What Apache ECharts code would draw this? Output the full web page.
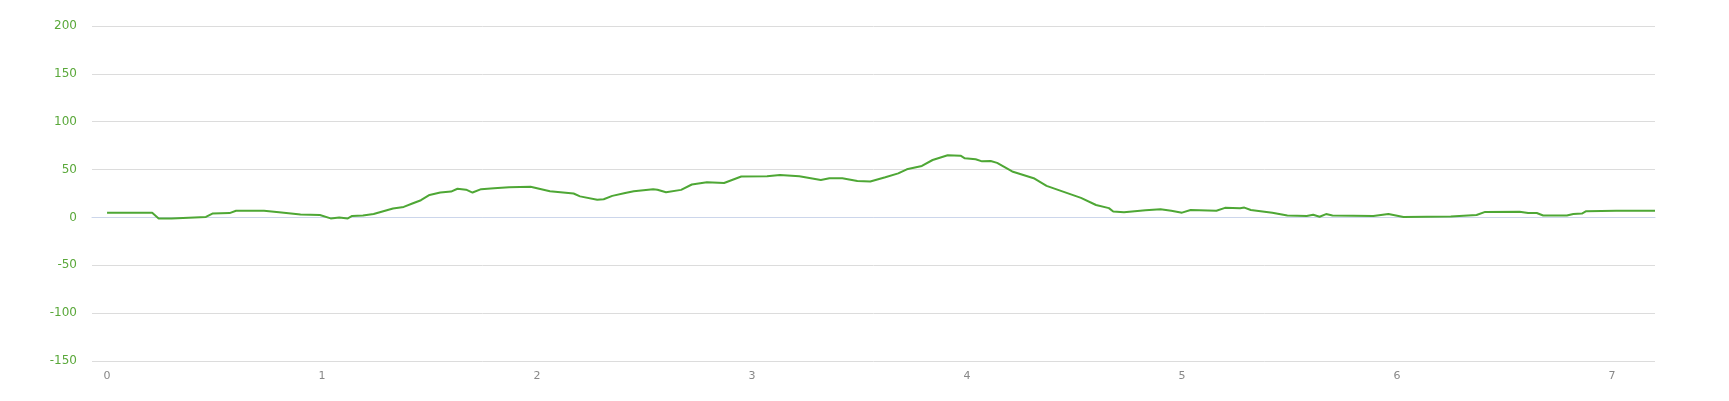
<!DOCTYPE html>
<html>
<head>
<meta charset="utf-8">
<script src="https://cdn.jsdelivr.net/npm/echarts@6/dist/echarts.min.js"></script>
<style>
	html, body { margin: 0; padding: 0; background: #fff; }
	#profileChart { width: 1729px; height: 401px; }
</style>
</head>
<body>
<div id="profileChart"></div>
<script>
	// distance (x) and elevation (y)
	var distances = [0, 0.1, 0.21, 0.24, 0.3, 0.46, 0.49, 0.57, 0.6, 0.73, 0.8, 0.9, 0.99, 1.04, 1.08, 1.12, 1.14, 1.19,
		1.24, 1.33, 1.38, 1.42, 1.46, 1.5, 1.55, 1.6, 1.63, 1.67, 1.7, 1.74, 1.8, 1.87, 1.97, 2.01, 2.06, 2.17, 2.2,
		2.28, 2.31, 2.35, 2.41, 2.45, 2.54, 2.56, 2.6, 2.67, 2.72, 2.79, 2.87, 2.95, 3.07, 3.13, 3.22, 3.32, 3.36,
		3.42, 3.49, 3.55, 3.62, 3.68, 3.72, 3.79, 3.84, 3.91, 3.97, 3.99, 4.04, 4.07, 4.11, 4.14, 4.21, 4.31, 4.37,
		4.45, 4.53, 4.6, 4.66, 4.68, 4.73, 4.83, 4.9, 4.95, 5.0, 5.04, 5.16, 5.2, 5.27, 5.29, 5.32, 5.42, 5.49, 5.58,
		5.61, 5.64, 5.67, 5.7, 5.89, 5.96, 6.03, 6.25, 6.37, 6.41, 6.57, 6.61, 6.65, 6.68, 6.79, 6.82, 6.86, 6.88,
		7.02, 7.2];
	var elevations = [5, 4.8, 4.8, -1, -1, 0.5, 4, 4.5, 7, 7, 5.5, 3, 2.5, -1, 0, -1, 1.5, 2,
		3.5, 9.4, 11, 14.5, 18, 23.5, 26, 27, 30, 29, 26, 29.5, 30.5, 31.5, 32, 30, 27.4, 25, 22,
		18.4, 19, 22.5, 25.5, 27.4, 29.5, 29, 26.3, 28.8, 34.4, 36.8, 36, 42.7, 43, 44.4, 43, 39, 41,
		41, 38, 37.5, 42, 46, 50.3, 53.8, 60, 65, 64.5, 61.8, 60.8, 58.6, 59, 57, 48, 41, 33,
		26.7, 20.4, 13, 9.7, 6.2, 5.5, 7.5, 8.5, 7, 5, 7.8, 7, 10, 9.5, 10.3, 7.8, 5, 2, 1.5,
		2.8, 0.7, 3.5, 2, 1.5, 3.5, 0.5, 1, 2.5, 5.8, 6, 4.6, 4.6, 2, 2, 3.5, 4, 6.5,
		7, 7];
	var xTickLabels = [0, 1, 2, 3, 4, 5, 6, 7];

	var seriesData = [];
	distances.forEach((d, index) => {
		seriesData.push([d, elevations[index]]);
	});

	var profileChart = echarts.init(document.getElementById('profileChart'));
	var option = {
		animation: false,
		grid: {
			top: 26,
			left: 92,
			right: 74,
			bottom: 40
		},
		xAxis: {
			type: 'value',
			min: -0.07,
			max: 7.2,
			axisLine: { show: true, lineStyle: { color: '#ccd6eb' } },
			axisTick: { show: false },
			splitLine: { show: false },
			axisLabel: {
				customValues: xTickLabels,
				color: '#888',
				fontFamily: 'DejaVu Sans',
				fontSize: 11,
				margin: 10
			}
		},
		yAxis: {
			type: 'value',
			min: -150,
			max: 200,
			interval: 50,
			axisLine: { show: false },
			axisTick: { show: false },
			splitLine: { lineStyle: { color: '#dcdcdc' } },
			axisLabel: {
				color: '#5aa83a',
				fontFamily: 'DejaVu Sans',
				fontSize: 12,
				margin: 15
			}
		},
		series: [{
			type: 'line',
			data: seriesData,
			symbol: 'none',
			smooth: false,
			lineStyle: { color: '#4ea735', width: 2 }
		}]
	};
	profileChart.setOption(option, true);
</script>
</body>
</html>
